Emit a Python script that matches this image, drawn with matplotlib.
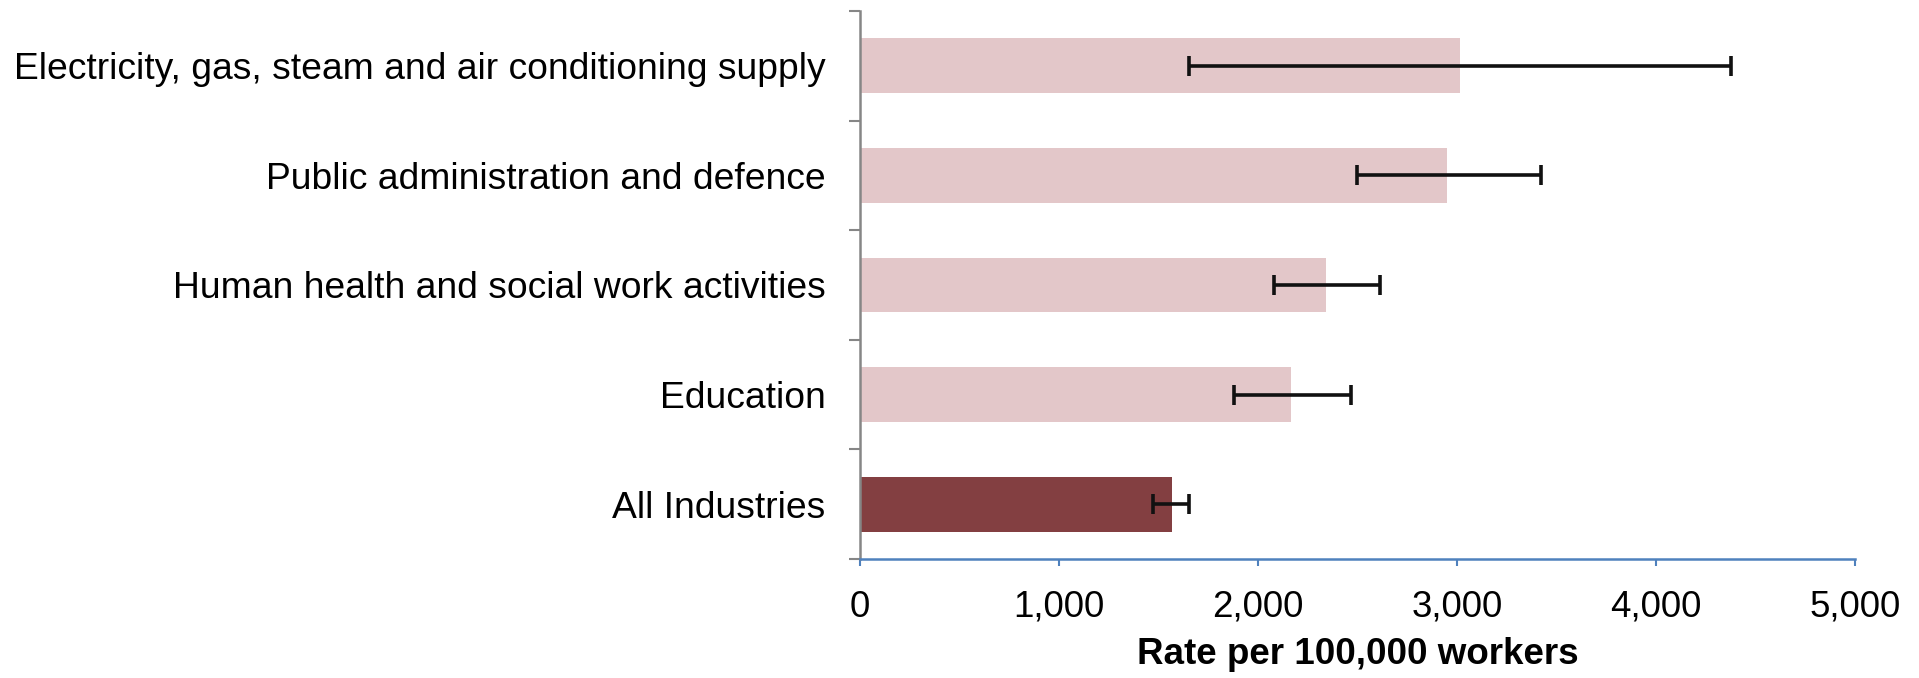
import matplotlib
matplotlib.use('Agg')
import matplotlib.pyplot as plt

plt.rcParams['font.family'] = ['Liberation Sans', 'DejaVu Sans']

# bottom to top
industries = ['All Industries', 'Education', 'Human health and social work activities',
              'Public administration and defence',
              'Electricity, gas, steam and air conditioning supply']
rates = [1567, 2167, 2340, 2952, 3016]
ci_low = [1470, 1878, 2080, 2497, 1654]
ci_high = [1652, 2468, 2615, 3423, 4378]
bar_colors = ['#833f41', '#e3c7c9', '#e3c7c9', '#e3c7c9', '#e3c7c9']

pos = list(range(len(industries)))
err_lo = [r - lo for r, lo in zip(rates, ci_low)]
err_hi = [hi - r for r, hi in zip(rates, ci_high)]

fig = plt.figure(figsize=(19.19, 6.78), dpi=100)
ax = fig.add_axes([0.4482, 0.1755, 0.9666 - 0.4482, 0.9838 - 0.1755])

ax.barh(pos, rates, height=0.5, color=bar_colors, zorder=2)
ax.errorbar(rates, pos, xerr=[err_lo, err_hi], fmt='none', ecolor='#111111',
            elinewidth=2.6, capsize=7.5, capthick=2.6, zorder=3)

ax.set_xlim(0, 5000)
ax.set_ylim(-0.5, len(industries) - 0.5)
ax.set_xticks(range(0, 5001, 1000))
ax.set_xticklabels([f'{v:,}' for v in range(0, 5001, 1000)])

# category labels at bar centres, tick marks at the category boundaries
ax.set_yticks(pos)
ax.set_yticklabels(industries)
ax.tick_params(axis='y', which='major', length=0, pad=25, labelsize=26.8)
ax.set_yticks([p - 0.5 for p in pos] + [len(pos) - 0.5], minor=True)
ax.tick_params(axis='y', which='minor', length=8, width=1.5, color='#868686')
ax.tick_params(axis='x', length=5, width=1.5, color='#4f81bd', pad=17, labelsize=26.5)

for s in ['top', 'right']:
    ax.spines[s].set_visible(False)
ax.spines['left'].set_color('#868686')
ax.spines['left'].set_linewidth(1.8)
ax.spines['bottom'].set_color('#4f81bd')
ax.spines['bottom'].set_linewidth(1.8)

ax.set_xlabel('Rate per 100,000 workers', fontsize=26.5, fontweight='bold', labelpad=9)

fig.savefig('out.png', dpi=100)
